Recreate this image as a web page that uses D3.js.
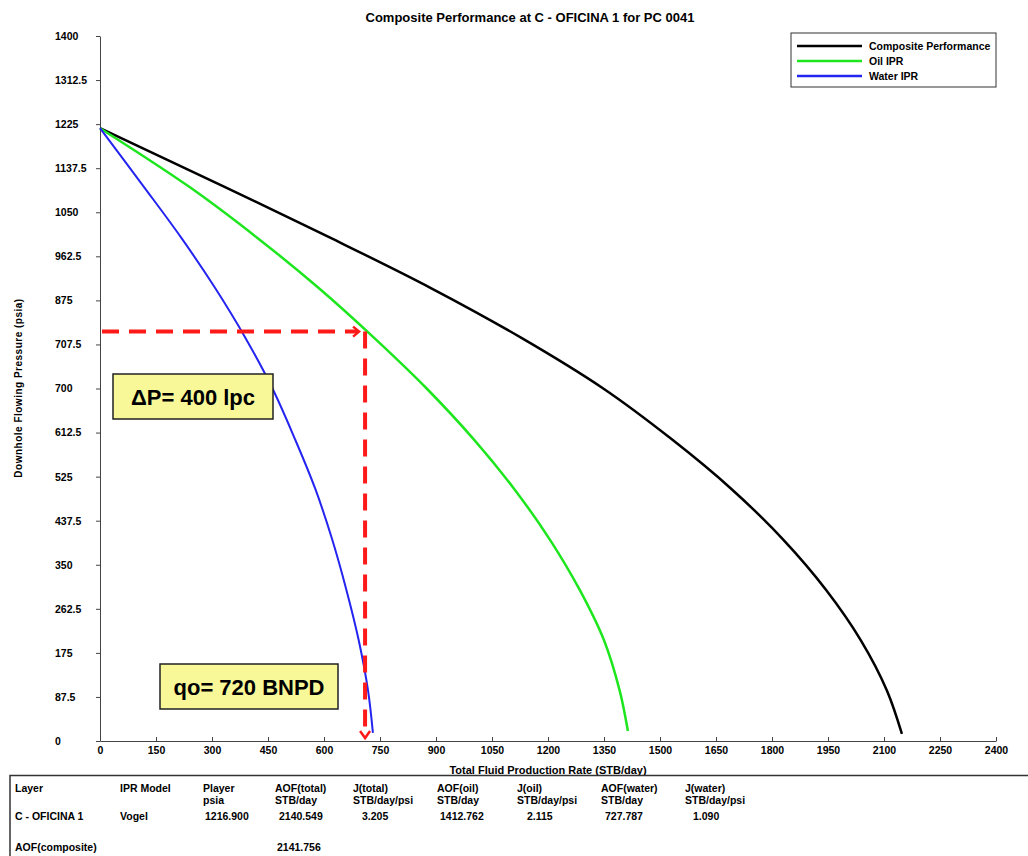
<!DOCTYPE html>
<html>
<head>
<meta charset="utf-8">
<script src="https://cdn.jsdelivr.net/npm/d3@7"></script>
<style>
  body { margin: 0; background: white; }
  text { font-family: "Liberation Sans Narrow", "Arial Narrow", "Liberation Sans", Arial, sans-serif; font-weight: bold; }
</style>
</head>
<body>
<svg width="1028" height="856"></svg>
<script>
// curves: [rate STB/day, pressure psia]
const compositeCurve = [[0,1216.9],[335,1100],[615,1000],[885,900],[1130,800],[1348,700],[1530,600],[1692,500],[1830,400],[1945,300],[2038,200],[2108,100],[2148,14]];
const oilCurve = [[0,1216.9],[240,1100],[420,1000],[585,900],[735,800],[875,700],[1000,600],[1110,500],[1205,400],[1285,300],[1350,200],[1392,100],[1414,20]];
const waterCurve = [[0,1216.9],[118,1100],[217,1000],[308,900],[390,800],[462,700],[522,600],[577,500],[622,400],[660,300],[693,200],[718,100],[731,16]];

const seriesNames = ["Composite Performance", "Oil IPR", "Water IPR"];
const seriesColors = ["#000000", "#1ee61e", "#2424f0"];

const xTicks = [0,150,300,450,600,750,900,1050,1200,1350,1500,1650,1800,1950,2100,2250,2400];
const yTicks = [0,87.5,175,262.5,350,437.5,525,612.5,700,787.5,875,962.5,1050,1137.5,1225,1312.5,1400];
const yTickLabels = ["0","87.5","175","262.5","350","437.5","525","612.5","700","707.5","875","962.5","1050","1137.5","1225","1312.5","1400"];

// operating point marked with the red arrows
const opRate = 710, opPressure = 813;
const notes = ["\u0394P= 400 lpc", "qo= 720 BNPD"];

// table under the chart
const tableHeads = ["Layer","IPR Model","Player","AOF(total)","J(total)","AOF(oil)","J(oil)","AOF(water)","J(water)"];
const tableUnits = ["","","psia","STB/day","STB/day/psi","STB/day","STB/day/psi","STB/day","STB/day/psi"];
const tableRow = ["C - OFICINA 1","Vogel","1216.900","2140.549","3.205","1412.762","2.115","727.787","1.090"];
const aofComposite = ["AOF(composite)","","","2141.756"];

var svg = d3.select("svg"),
  width = +svg.attr("width"),
  height = +svg.attr("height");

svg.append("rect").attr("width", width).attr("height", height).attr("fill", "white")

var x = d3.scaleLinear().domain([0, 2400]).range([100, 996])
var y = d3.scaleLinear().domain([0, 1400]).range([741, 36])

// title
svg.append("text")
  .attr("x", 530)
  .attr("y", 22)
  .attr("text-anchor", "middle")
  .style("font-family", "'Liberation Sans', Arial, sans-serif")
  .style("font-size", "13px")
  .text("Composite Performance at C - OFICINA 1 for PC 0041")

// axes
var xAxis = d3.axisBottom(x).tickValues(xTicks).tickFormat(d3.format("d"))
  .tickSizeInner(-4).tickSizeOuter(0).tickPadding(6)
var gx = svg.append("g").attr("transform", "translate(0," + y(0) + ")").call(xAxis)
gx.selectAll("text").style("font-size", "10.5px").attr("fill", "black")

var yAxis = d3.axisLeft(y).tickValues(yTicks).tickSizeInner(4).tickSizeOuter(0)
  .tickFormat((d, i) => yTickLabels[i])
var gy = svg.append("g").attr("transform", "translate(" + x(0) + ",0)").call(yAxis)
gy.selectAll("text").attr("text-anchor", "start").attr("x", -45).style("font-size", "10.5px").attr("fill", "black")

svg.selectAll(".domain, .tick line").attr("stroke", "#444")

svg.append("text")
  .attr("x", 548)
  .attr("y", 774)
  .attr("text-anchor", "middle")
  .style("font-size", "11px")
  .text("Total Fluid Production Rate (STB/day)")

svg.append("text")
  .attr("transform", "translate(22,388) rotate(-90)")
  .attr("text-anchor", "middle")
  .style("font-family", "'Liberation Sans', Arial, sans-serif")
  .style("font-size", "10px")
  .style("letter-spacing", "0.5px")
  .text("Downhole Flowing Pressure (psia)")

// curves
var line = d3.line().x(d => x(d[0])).y(d => y(d[1])).curve(d3.curveCatmullRom.alpha(0.5))
const curves = [compositeCurve, oilCurve, waterCurve]
svg.append("g").selectAll("path").data(curves).enter()
  .append("path")
  .attr("d", line)
  .attr("fill", "none")
  .attr("stroke", (d, i) => seriesColors[i])
  .attr("stroke-width", (d, i) => i == 2 ? 2 : 2.5)

// red dashed arrows
var red = "#ff1a1a"
svg.append("line")
  .attr("x1", x(0) + 2).attr("y1", y(opPressure))
  .attr("x2", x(opRate) - 8).attr("y2", y(opPressure))
  .attr("stroke", red).attr("stroke-width", 4).attr("stroke-dasharray", "17,10")
svg.append("path")
  .attr("d", "M" + (x(opRate) - 12) + "," + (y(opPressure) - 5) + " L" + (x(opRate) - 6) + "," + y(opPressure) + " L" + (x(opRate) - 12) + "," + (y(opPressure) + 5))
  .attr("fill", "none").attr("stroke", red).attr("stroke-width", 2.5)
svg.append("line")
  .attr("x1", x(opRate)).attr("y1", y(opPressure))
  .attr("x2", x(opRate)).attr("y2", y(0) - 6)
  .attr("stroke", red).attr("stroke-width", 4).attr("stroke-dasharray", "17,10")
svg.append("path")
  .attr("d", "M" + (x(opRate) - 5) + "," + (y(0) - 10) + " L" + x(opRate) + "," + (y(0) - 3) + " L" + (x(opRate) + 5) + "," + (y(0) - 10))
  .attr("fill", "none").attr("stroke", red).attr("stroke-width", 2.5)

// note boxes
const noteBoxes = [{x: 113, y: 374, w: 160, h: 45}, {x: 160, y: 664, w: 178, h: 45}]
noteBoxes.forEach((b, i) => {
  svg.append("rect")
    .attr("x", b.x).attr("y", b.y).attr("width", b.w).attr("height", b.h)
    .attr("fill", "#f8f898").attr("stroke", "#222").attr("stroke-width", 1.5)
  svg.append("text")
    .attr("x", b.x + b.w / 2).attr("y", b.y + b.h / 2 + 8)
    .attr("text-anchor", "middle")
    .style("font-family", "'Liberation Sans', Arial, sans-serif")
    .style("font-size", "22px")
    .text(notes[i])
})

// legend
var legend = svg.append("g").attr("transform", "translate(791,33)")
legend.append("rect").attr("width", 205).attr("height", 54)
  .attr("fill", "white").attr("stroke", "#333").attr("stroke-width", 1)
seriesNames.forEach((name, i) => {
  legend.append("line")
    .attr("x1", 6).attr("x2", 71).attr("y1", 13 + i * 15).attr("y2", 13 + i * 15)
    .attr("stroke", seriesColors[i]).attr("stroke-width", 2.5)
  legend.append("text")
    .attr("x", 78).attr("y", 17 + i * 15)
    .style("font-size", "10.5px")
    .text(name)
})

// table
var table = svg.append("g")
table.append("path")
  .attr("d", "M10,860 L10,775.5 L1028,775.5")
  .attr("fill", "none").attr("stroke", "#333").attr("stroke-width", 1.5)
const colX = [15, 120, 203, 275, 353, 437, 517, 601, 685]
const colShift = [0, 0, 2, 4, 9, 3, 10, 4, 8]
tableHeads.forEach((h, i) => {
  table.append("text").attr("x", colX[i]).attr("y", 792).style("font-size", "10.5px").text(h)
  table.append("text").attr("x", colX[i]).attr("y", 804).style("font-size", "10.5px").text(tableUnits[i])
  table.append("text").attr("x", colX[i] + colShift[i]).attr("y", 820).style("font-size", "10.5px").text(tableRow[i])
})
aofComposite.forEach((v, i) => {
  table.append("text").attr("x", colX[i] + (i == 3 ? 2 : 0)).attr("y", 851).style("font-size", "10.5px").text(v)
})
</script>
</body>
</html>
